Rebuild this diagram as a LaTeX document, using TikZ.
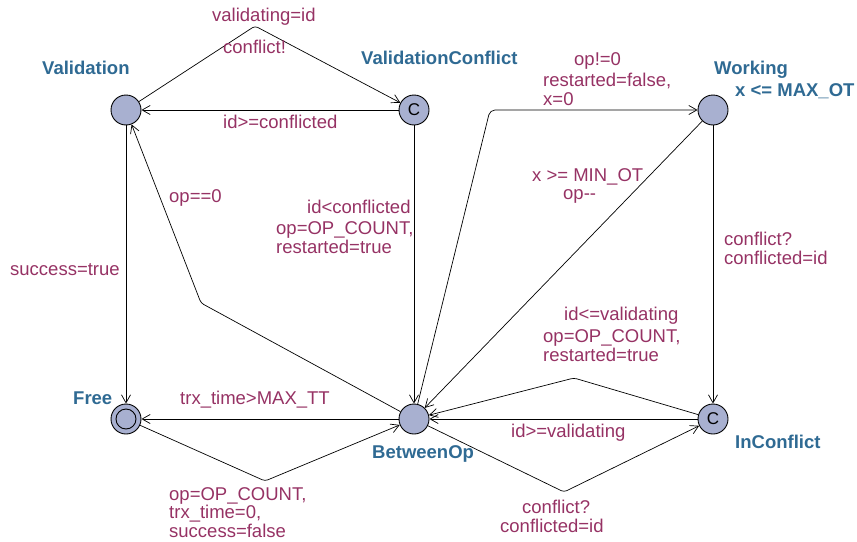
\documentclass[tikz,border=0pt]{standalone}
\usepackage{fontspec}
\setmainfont{Liberation Sans}
\usetikzlibrary{arrows.meta}

\definecolor{locblue}{RGB}{47,106,147}
\definecolor{lblred}{RGB}{150,50,100}
\definecolor{locfill}{RGB}{168,176,208}

\tikzset{
  loc/.style={circle, draw, line width=0.9pt, fill=locfill, minimum size=30pt, inner sep=0pt, font=\fontsize{17}{17}\selectfont},
  locname/.style={anchor=north west, inner sep=0pt, text=locblue, font=\fontsize{18.5}{19}\selectfont\bfseries},
  lbl/.style={anchor=north west, inner sep=0pt, text=lblred, align=left, font=\fontsize{18.5}{19}\selectfont},
  edge/.style={draw, line width=0.7pt, rounded corners=3pt, -{Straight Barb[length=8pt,width=9pt]}},
}

\begin{document}
\begin{tikzpicture}[x=1pt,y=1pt,yscale=-1,xscale=1]
\useasboundingbox (0,0) rectangle (857,541);

% Locations
\node[loc] (validation) at (126,110) {};
\node[loc] (valconf) at (414,110) {C};
\node[loc] (working) at (713,110) {};
\node[loc] (free) at (126,419) {};
\draw[line width=0.9pt] (free.center) circle[radius=10];
\node[loc] (betweenop) at (414,419) {};
\node[loc] (inconflict) at (713,419) {C};

% Bend points
\coordinate (c1) at (255,26);
\coordinate (c4) at (201,303);
\coordinate (c7) at (265,481);
\coordinate (c8) at (490,110);
\coordinate (c11) at (574,378);
\coordinate (c13) at (564,492);

% Edges
\draw[edge] (validation) -- (c1) -- (valconf);
\draw[edge] (valconf) -- (validation);
\draw[edge] (valconf) -- (betweenop);
\draw[edge] (betweenop) -- (c4) -- (validation);
\draw[edge] (validation) -- (free);
\draw[edge] (betweenop) -- (free);
\draw[edge] (free) -- (c7) -- (betweenop);
\draw[edge, rounded corners=5pt] (betweenop) -- (c8) -- (working);
\draw[edge] (working) -- (betweenop);
\draw[edge] (working) -- (inconflict);
\draw[edge] (inconflict) -- (c11) -- (betweenop);
\draw[edge] (inconflict) -- (betweenop);
\draw[edge] (betweenop) -- (c13) -- (inconflict);

% Location names
\node[locname] (n1) at (42,61) {Validation};
\node[locname] (n2) at (361,51) {ValidationConflict};
\node[locname] (n3) at (714,61) {Working};
\node[locname] (n4) at (735,83) {x <= MAX\_OT};
\node[locname] (n5) at (73,392) {Free};
\node[locname] (n6) at (372,445) {BetweenOp};
\node[locname] (n7) at (735,435) {InConflict};

% Edge labels
\node[lbl] (l1) at (212,8) {validating=id};
\node[lbl] (l2) at (223,40) {conflict!};
\node[lbl] (l3) at (223,115) {id>=conflicted};
\node[lbl] (l4) at (169,189) {op==0};
\node[lbl] (l5) at (307,200) {id<conflicted};
\node[lbl] (l6) at (276,221) {op=OP\_COUNT,\\restarted=true};
\node[lbl, font=\fontsize{18.5}{18.5}\selectfont] (l9) at (169,487) {op=OP\_COUNT,\\trx\_time=0,\\success=false};
\node[lbl] (l7) at (10,263) {success=true};
\node[lbl] (l8) at (180,391) {trx\_time>MAX\_TT};
\node[lbl] (l10) at (574,52) {op!=0};
\node[lbl] (l11) at (543,73) {restarted=false,\\x=0};
\node[lbl] (l12) at (532,168) {x >= MIN\_OT};
\node[lbl] (l13) at (563,189) {op-{}-};
\node[lbl] (l14) at (724,232) {conflict?\\conflicted=id};
\node[lbl] (l15) at (564,307) {id<=validating};
\node[lbl] (l16) at (543,329) {op=OP\_COUNT,\\restarted=true};
\node[lbl] (l17) at (511,424) {id>=validating};
\node[lbl] (l18) at (522,500) {conflict?};
\node[lbl] (l19) at (500,519) {conflicted=id};

\end{tikzpicture}
\end{document}
